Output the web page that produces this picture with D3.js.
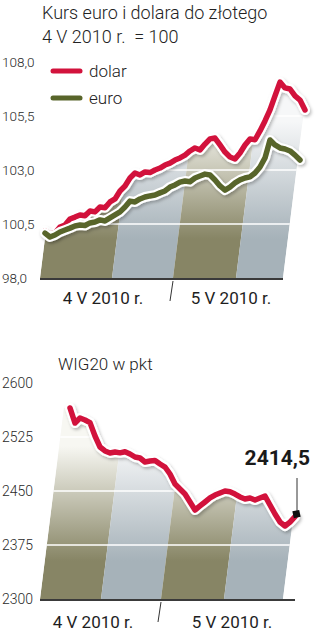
<!DOCTYPE html>
<html>
<head>
<meta charset="utf-8">
<script src="https://cdn.jsdelivr.net/npm/d3@7"></script>
<style>
  body { margin: 0; background: #fff; }
  text { font-family: Roboto, "Noto Sans", sans-serif; }
</style>
</head>
<body>
<div id="chart"></div>
<script>
// kurs (4 V 2010 = 100), kolejne notowania
const dolar = [100.18, 100.04, 100.08, 100.36, 100.45, 100.73, 100.82, 100.92, 100.88, 101.10,
               101.06, 101.29, 101.25, 101.52, 101.66, 102.03, 102.26, 102.63, 102.86, 102.77,
               102.91, 102.88, 103.00, 103.09, 103.23, 103.32, 103.46, 103.56, 103.69, 103.88,
               104.02, 103.93, 104.20, 104.44, 104.48, 104.16, 103.83, 103.60, 103.51, 103.79,
               104.16, 104.44, 104.40, 104.81, 105.27, 105.78, 106.43, 107.07, 106.80, 106.75,
               106.43, 106.24, 105.78];
const euro = [100.08, 99.90, 99.99, 100.13, 100.22, 100.31, 100.41, 100.45, 100.43, 100.55,
              100.59, 100.69, 100.64, 100.78, 100.92, 101.06, 101.29, 101.56, 101.52, 101.66,
              101.75, 101.80, 101.84, 101.94, 102.03, 102.21, 102.31, 102.44, 102.49, 102.46,
              102.63, 102.72, 102.81, 102.77, 102.54, 102.26, 102.07, 102.21, 102.40, 102.54,
              102.63, 102.68, 102.86, 103.14, 103.56, 104.39, 104.16, 104.02, 103.97, 103.88,
              103.69, 103.46];
const wig20 = [2565.3, 2544.4, 2551.4, 2548.6, 2545.0, 2526.4, 2511.1, 2505.6, 2502.8, 2504.2,
               2503.0, 2504.5, 2501.4, 2497.2, 2495.8, 2490.3, 2491.7, 2492.5, 2487.5, 2483.3,
               2473.6, 2459.7, 2452.8, 2445.8, 2434.7, 2423.6, 2429.2, 2434.7, 2440.3, 2444.4,
               2447.2, 2450.0, 2449.0, 2445.8, 2441.7, 2438.9, 2440.3, 2437.5, 2440.3, 2443.1,
               2430.6, 2418.1, 2406.9, 2401.4, 2406.9, 2414.5];

const ticksKurs = [98, 100.5, 103, 105.5, 108];
const ticksWig = [2300, 2375, 2450, 2525, 2600];
const dni = ['4 V 2010 r.', '5 V 2010 r.'];

// granice pasów tła, podpisy dni i kreska między dniami (w numerach notowań)
const pasyKurs = [-1, 13.4, 25.6, 38.2, 47.6];
const dniKurs = [11.6, 37.2];
const pasyWig = [-6, 6.2, 18.2, 30.8, 42.6];
const dniWig = [4.6, 32.4];

const red = '#d2123c', green = '#58652a';
const skos = 0.125;

const pl = d3.formatLocale({decimal: ',', thousands: ' ', grouping: [3], currency: ['', ' zł']});
const f1 = pl.format('.1f');

const svg = d3.select('#chart').append('svg')
  .attr('width', 329)
  .attr('height', 640);

const defs = svg.append('defs');
defs.append('filter')
    .attr('id', 'cien')
    .attr('x', '-10%').attr('y', '-20%').attr('width', '130%').attr('height', '150%')
  .append('feDropShadow')
    .attr('dx', 1.5).attr('dy', 2).attr('stdDeviation', 1.8)
    .attr('flood-color', '#000').attr('flood-opacity', 0.25);

function gradient(id, y1, y2, c1, c2) {
  const gr = defs.append('linearGradient')
    .attr('id', id)
    .attr('gradientUnits', 'userSpaceOnUse')
    .attr('x1', 0).attr('x2', 0).attr('y1', y1).attr('y2', y2);
  gr.append('stop').attr('offset', 0).attr('stop-color', c1);
  gr.append('stop').attr('offset', 0.25).attr('stop-color', c1);
  gr.append('stop').attr('offset', 1).attr('stop-color', c2);
}

function panel(o) {
  const x = o.x, y = o.y;
  const base = y.range()[0];
  const main = o.series[0].data;
  const yTop = y(d3.max(main));
  const yFade = base - 0.8 * (base - yTop);

  gradient(o.id + 'a', base, yFade, '#878565', '#f7f7f2');
  gradient(o.id + 'b', base, yFade, '#a6b2b9', '#f6f7f8');

  // obszar pod główną linią, ze skośnymi bokami
  const pts = main.map((d, i) => [x(i), y(d)]);
  const b0 = x(o.pasy[0]), bn = x(o.pasy[o.pasy.length - 1]);
  const first = pts[0], last = pts[pts.length - 1];
  const poly = [[b0, base], [b0 + skos * (base - first[1]), first[1]]]
    .concat(pts)
    .concat([[bn + skos * (base - last[1]), last[1]], [bn, base]]);

  defs.append('clipPath').attr('id', o.id + 'clip')
    .append('path').attr('d', d3.line()(poly) + 'Z');

  const fill = svg.append('g').attr('clip-path', 'url(#' + o.id + 'clip)');
  const H = base - yTop + 10;
  fill.append('rect')
    .attr('x', 0).attr('y', base - H).attr('width', 329).attr('height', H)
    .attr('fill', '#f8f8f8');
  fill.selectAll('path')
    .data(d3.pairs(o.pasy))
    .enter()
    .append('path')
    .attr('d', d => {
      const a = x(d[0]), b = x(d[1]);
      return d3.line()([[a, base], [b, base], [b + skos * H, base - H], [a + skos * H, base - H]]) + 'Z';
    })
    .attr('fill', (d, i) => 'url(#' + o.id + (i % 2 ? 'b' : 'a') + ')');

  fill.selectAll('line')
    .data(o.ticks.slice(1))
    .enter()
    .append('line')
    .attr('x1', 0).attr('x2', 329)
    .attr('y1', d => y(d)).attr('y2', d => y(d))
    .attr('stroke', '#fff')
    .attr('stroke-width', 1.3);

  // oś
  svg.append('line')
    .attr('x1', b0).attr('x2', bn + o.extra)
    .attr('y1', base + 1).attr('y2', base + 1)
    .attr('stroke', '#3a3a3a').attr('stroke-width', 2);

  const sep = x(o.pasy[2]);
  svg.append('line')
    .attr('x1', sep).attr('y1', base + 3)
    .attr('x2', sep - 3).attr('y2', base + 23)
    .attr('stroke', '#333').attr('stroke-width', 1);

  svg.append('g').selectAll('text')
    .data(o.ticks)
    .enter()
    .append('text')
    .attr('x', 2)
    .attr('y', d => y(d))
    .attr('dy', '0.36em')
    .attr('font-size', o.tickSize)
    .attr('font-weight', 300)
    .attr('fill', '#2a2a2a')
    .text(o.fmt);

  svg.append('g').selectAll('text')
    .data(dni)
    .enter()
    .append('text')
    .attr('x', (d, i) => x(o.dni[i]))
    .attr('y', base + o.dniDy)
    .attr('text-anchor', 'middle')
    .attr('font-size', 17)
    .attr('fill', '#1e1e1e')
    .text(d => d);

  const line = d3.line().x((d, i) => x(i)).y(d => y(d));
  o.series.forEach(s => {
    svg.append('path')
      .attr('d', line(s.data))
      .attr('fill', 'none')
      .attr('stroke', '#fff')
      .attr('stroke-width', 10)
      .attr('stroke-linejoin', 'round')
      .attr('stroke-linecap', 'round')
      .attr('filter', 'url(#cien)');
    svg.append('path')
      .attr('d', line(s.data))
      .attr('fill', 'none')
      .attr('stroke', s.color)
      .attr('stroke-width', 5.5)
      .attr('stroke-linejoin', 'round')
      .attr('stroke-linecap', 'round');
  });
}

// --- wykres 1: kurs euro i dolara ---
const x1 = d3.scaleLinear().domain([0, 52]).range([45, 305]);
const y1 = d3.scaleLinear().domain([98, 108]).range([278, 62]);

svg.append('text').attr('x', 42).attr('y', 19)
  .attr('font-size', 18).attr('font-weight', 300).attr('fill', '#222')
  .text('Kurs euro i dolara do złotego');
svg.append('text').attr('x', 42).attr('y', 43)
  .attr('font-size', 18).attr('font-weight', 300).attr('fill', '#222')
  .attr('xml:space', 'preserve')
  .text('4 V 2010 r.  = 100');

panel({
  id: 'k', x: x1, y: y1, pasy: pasyKurs, dni: dniKurs, ticks: ticksKurs,
  fmt: f1, tickSize: 13.5, dniDy: 26, extra: 0,
  series: [{data: dolar, color: red}, {data: euro, color: green}]
});

const legenda = svg.append('g');
[['dolar', red], ['euro', green]].forEach((d, i) => {
  legenda.append('line')
    .attr('x1', 53).attr('x2', 80)
    .attr('y1', 71 + i * 27).attr('y2', 71 + i * 27)
    .attr('stroke', d[1]).attr('stroke-width', 5).attr('stroke-linecap', 'round');
  legenda.append('text')
    .attr('x', 89).attr('y', 77 + i * 27)
    .attr('font-size', 17).attr('font-weight', 300).attr('fill', '#222')
    .text(d[0]);
});

// --- wykres 2: WIG20 ---
const x2 = d3.scaleLinear().domain([0, 45]).range([70, 295]);
const y2 = d3.scaleLinear().domain([2300, 2600]).range([599, 383]);

svg.append('text').attr('x', 58).attr('y', 370)
  .attr('font-size', 17).attr('font-weight', 300).attr('fill', '#222')
  .text('WIG20 w pkt');

panel({
  id: 'w', x: x2, y: y2, pasy: pasyWig, dni: dniWig, ticks: ticksWig,
  fmt: d => d, tickSize: 14, dniDy: 29, extra: 12,
  series: [{data: wig20, color: red}]
});

const ost = wig20.length - 1;
svg.append('line')
  .attr('x1', x2(ost) + 2).attr('x2', x2(ost) + 2)
  .attr('y1', 478).attr('y2', y2(wig20[ost]))
  .attr('stroke', '#333').attr('stroke-width', 1);
svg.append('rect')
  .attr('x', x2(ost) - 2).attr('y', y2(wig20[ost]) - 6)
  .attr('width', 7).attr('height', 7)
  .attr('fill', '#111')
  .attr('transform', 'rotate(-12,' + (x2(ost) + 1.5) + ',' + (y2(wig20[ost]) - 2.5) + ')');
svg.append('text')
  .attr('x', 310).attr('y', 465)
  .attr('text-anchor', 'end')
  .attr('font-size', 21).attr('font-weight', 700).attr('fill', '#1a1a1a')
  .text(f1(wig20[ost]));
</script>
</body>
</html>
